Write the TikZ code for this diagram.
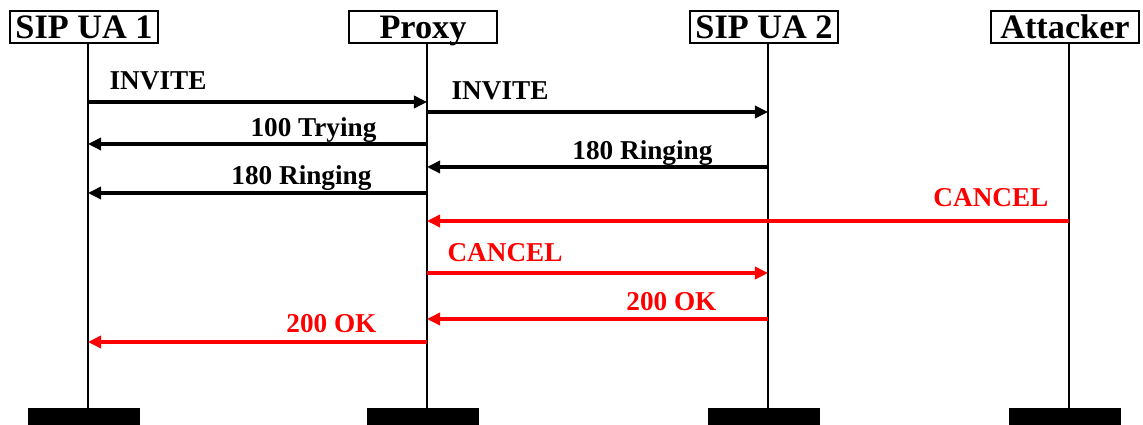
\documentclass[tikz,border=0pt]{standalone}
\usepackage{fontspec}
\setmainfont{Liberation Serif}
\usetikzlibrary{arrows.meta,positioning}

\begin{document}
\begin{tikzpicture}[
    x=0.02cm, y=-0.02cm,
    actor/.style={rectangle, draw, line width=0.9pt, minimum width=2.96cm, minimum height=0.64cm,
        inner sep=0pt, text height=13pt, text depth=0pt, font=\fontsize{19.5}{22}\selectfont\bfseries},
    endbar/.style={rectangle, fill=black, minimum width=2.24cm, minimum height=0.34cm, inner sep=0pt},
    life/.style={line width=0.9pt},
    msg/.style={-{Triangle[length=7.5pt,width=7pt]}, line width=1.8pt},
    lbl/.style={font=\fontsize{15.5}{18}\selectfont\bfseries, inner sep=0pt},
    attack/.style={red}
]
\useasboundingbox (0,0) rectangle (1143,425);

% participants
\node[actor] (ua1) at (84,27) {SIP UA 1};
\node[actor] (proxy) at (423,27) {Proxy};
\node[actor] (ua2) at (764,27) {SIP UA 2};
\node[actor] (att) at (1065,27) {Attacker};

\node[endbar] (ua1end) at (84,416.5) {};
\node[endbar] (proxyend) at (423,416.5) {};
\node[endbar] (ua2end) at (764,416.5) {};
\node[endbar] (attend) at (1065,416.5) {};

% lifelines
\foreach \n in {ua1,proxy,ua2,att} {
    \coordinate (\n-l) at ([xshift=0.08cm]\n.south);
    \draw[life] (\n-l) -- (\n-l |- \n end.north);
}

% call setup
\draw[msg] (ua1-l |- 0,102) -- (proxy-l |- 0,102) node[lbl, anchor=base west] at (108,90) {INVITE};
\draw[msg] (proxy-l |- 0,112) -- (ua2-l |- 0,112) node[lbl, anchor=base west] at (450,100) {INVITE};
\draw[msg] (proxy-l |- 0,144) -- (ua1-l |- 0,144) node[lbl, anchor=base east] at (378,137) {100 Trying};
\draw[msg] (ua2-l |- 0,167) -- (proxy-l |- 0,167) node[lbl, anchor=base east] at (714,160) {180 Ringing};
\draw[msg] (proxy-l |- 0,193) -- (ua1-l |- 0,193) node[lbl, anchor=base east] at (373,185) {180 Ringing};

% forged cancel
\draw[msg, attack] (att-l |- 0,221) -- (proxy-l |- 0,221) node[lbl, anchor=base east] at (1050,207) {CANCEL};
\draw[msg, attack] (proxy-l |- 0,273) -- (ua2-l |- 0,273) node[lbl, anchor=base west] at (446,262) {CANCEL};
\draw[msg, attack] (ua2-l |- 0,319) -- (proxy-l |- 0,319) node[lbl, anchor=base east] at (718,311) {200 OK};
\draw[msg, attack] (proxy-l |- 0,342) -- (ua1-l |- 0,342) node[lbl, anchor=base east] at (378,333) {200 OK};
\end{tikzpicture}
\end{document}
